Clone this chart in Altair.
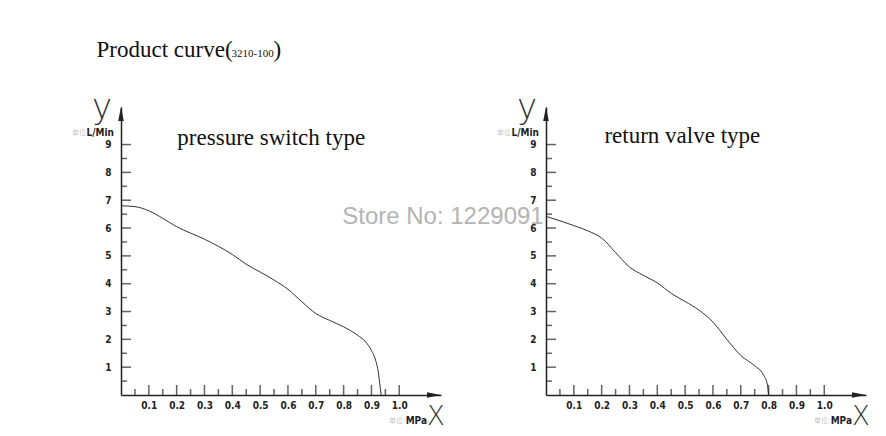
import altair as alt
import pandas as pd

# curve 1: pressure switch type (pressure MPa -> flow L/Min)
ps_pressure = [0, 0.05, 0.1, 0.15, 0.2, 0.3, 0.4, 0.45, 0.5, 0.55, 0.6, 0.65,
               0.7, 0.75, 0.8, 0.85, 0.88, 0.9, 0.915, 0.925, 0.93, 0.935]
ps_flow = [6.8, 6.77, 6.62, 6.35, 6.05, 5.6, 5.05, 4.7, 4.42, 4.13, 3.8, 3.35,
           2.93, 2.68, 2.45, 2.15, 1.9, 1.6, 1.25, 0.8, 0.4, 0.0]

# curve 2: return valve type
rv_pressure = [0, 0.05, 0.1, 0.15, 0.2, 0.25, 0.3, 0.35, 0.4, 0.45, 0.5, 0.55,
               0.6, 0.65, 0.7, 0.75, 0.78, 0.795, 0.8]
rv_flow = [6.42, 6.26, 6.09, 5.9, 5.64, 5.12, 4.6, 4.3, 4.03, 3.65, 3.36, 3.05,
           2.62, 2.0, 1.42, 1.05, 0.75, 0.4, 0.0]

x_major = [0.1, 0.2, 0.3, 0.4, 0.5, 0.6, 0.7, 0.8, 0.9, 1.0]
x_minor = [0.05, 0.15, 0.25, 0.35, 0.45, 0.55, 0.65, 0.75, 0.85, 0.95]
y_major = [1, 2, 3, 4, 5, 6, 7, 8, 9]
y_minor = [0.5, 1.5, 2.5, 3.5, 4.5, 5.5, 6.5, 7.5, 8.5]

X_MAX = 1.15
Y_MAX = 10.35
INK = "#222222"
CAD = "Liberation Sans Narrow, DejaVu Sans Condensed, Arial Narrow, sans-serif"
SERIF = "Liberation Serif, Times New Roman, serif"

xs = alt.Scale(domain=[0, X_MAX], nice=False, zero=False)
ys = alt.Scale(domain=[0, Y_MAX], nice=False, zero=False)
x_axis = alt.Axis(values=x_major, format=".1f", labelPadding=5, labelOverlap=False,
                  labelFlush=False, title=None)
y_axis = alt.Axis(values=y_major, format="d", labelPadding=10, labelOverlap=False,
                  labelFlush=False, title=None)

# every layer shares the same x / y definitions so the axes merge cleanly
X = alt.X("x:Q", scale=xs, axis=x_axis)
Y = alt.Y("y:Q", scale=ys, axis=y_axis)


def note(x, y, text, **style):
    df = pd.DataFrame({"x": [x], "y": [y], "t": [text]})
    return alt.Chart(df).mark_text(**style).encode(x=X, y=Y, text="t:N")


def xticks(vals, size):
    df = pd.DataFrame({"x": vals, "y": [0] * len(vals)})
    return alt.Chart(df).mark_tick(
        orient="vertical", size=size, thickness=1.5, yOffset=-size / 2, color=INK
    ).encode(x=X, y=Y)


def yticks(vals, size):
    df = pd.DataFrame({"x": [0] * len(vals), "y": vals})
    return alt.Chart(df).mark_tick(
        orient="horizontal", size=size, thickness=1.5, xOffset=size / 2, color=INK
    ).encode(x=X, y=Y)


def panel(pressure, flow, label, label_x, label_y):
    curve = alt.Chart(pd.DataFrame({"x": pressure, "y": flow})).mark_line(
        color="#333333", strokeWidth=1, interpolate="monotone"
    ).encode(x=X, y=Y)

    arrows = alt.Chart(pd.DataFrame({
        "x": [0, X_MAX], "y": [Y_MAX, 0],
        "s": ["M0,0L-0.4,2L0.4,2Z", "M0,0L-2,-0.4L-2,0.4Z"],
    })).mark_point(filled=True, size=196, color=INK, opacity=1).encode(
        x=X, y=Y, shape=alt.Shape("s:N", scale=None),
    )

    texts = [
        note(label_x, label_y, label, font=SERIF, fontSize=23, color="#111111",
             align="center", baseline="alphabetic"),
        note(0, Y_MAX, "y", font="DejaVu Sans, sans-serif", fontSize=34, color="#333333",
             align="right", baseline="alphabetic", dx=-9, dy=11, fontWeight=200),
        note(0, 9.5, "L/Min", font=CAD, fontSize=10, fontWeight="bold", color=INK,
             align="right", baseline="middle", dx=-7, dy=2),
        note(0, 9.5, "单位:", font="Noto Sans CJK SC", fontSize=7, color="#c8c8c8",
             align="right", baseline="middle", dx=-33, dy=2),
        note(X_MAX, 0, "X", font="DejaVu Sans, sans-serif", fontSize=26, color="#333333",
             align="center", baseline="middle", dx=-5, dy=22, fontWeight=200),
        note(X_MAX, 0, "MPa", font=CAD, fontSize=10, fontWeight="bold", color=INK,
             align="right", baseline="middle", dx=-14, dy=26),
        note(X_MAX, 0, "单位:", font="Noto Sans CJK SC", fontSize=7, color="#c8c8c8",
             align="right", baseline="middle", dx=-36, dy=26),
    ]

    layers = [curve, xticks(x_major, 10), xticks(x_minor, 6), yticks(y_major, 10),
              yticks(y_minor, 6), arrows] + texts
    return alt.layer(*layers).properties(width=320, height=288)


left = panel(ps_pressure, ps_flow, "pressure switch type", 0.54, 8.99)
left = alt.layer(
    left,
    note(-0.088, 12.14, "Product curve(", font=SERIF, fontSize=23, color="#111111",
         align="left", baseline="alphabetic"),
    note(-0.088, 12.14, "3210-100", font=SERIF, fontSize=11, color="#111111",
         align="left", baseline="alphabetic", dx=135),
    note(-0.088, 12.14, ")", font=SERIF, fontSize=23, color="#111111",
         align="left", baseline="alphabetic", dx=177),
    note(0.795, 6.15, "Store No: 1229091", font="Liberation Sans, Arial, sans-serif",
         fontSize=24, color="#b4b4b4", align="left", baseline="alphabetic"),
)
right = panel(rv_pressure, rv_flow, "return valve type", 0.49, 9.04)

chart = alt.hconcat(left, right, spacing=105, bounds="flush").properties(
    padding={"left": 64, "top": 31, "right": 0, "bottom": 0}
).configure_view(stroke=None).configure_axis(
    grid=False, ticks=False, labelOverlap=False,
    domainColor=INK, domainWidth=1.5,
    labelFont=CAD, labelFontSize=10, labelFontWeight="bold", labelColor=INK,
)

chart.save("out.html", embed_options={"renderer": "svg", "actions": False})
